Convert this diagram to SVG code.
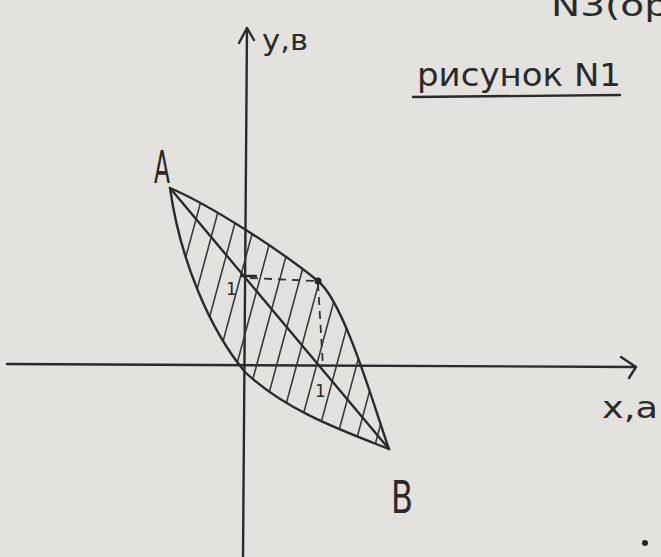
<svg xmlns="http://www.w3.org/2000/svg" width="661" height="557" viewBox="0 0 661 557">
<style>
.ln{fill:none;stroke:#2a2a2a;stroke-width:2.4;stroke-linecap:round;stroke-linejoin:round}
.th{fill:none;stroke:#3a3a3a;stroke-width:1.6;stroke-linecap:round}
.ds{fill:none;stroke:#333;stroke-width:1.8;stroke-dasharray:8 6}
.t{font-family:"DejaVu Sans","Liberation Sans",sans-serif;fill:#2a2a2a}
</style>
<defs>
<clipPath id="lens">
<path d="M170,188 C210,205 280,250 318,281 C345,303 375,410 389,449 C340,430 285,410 245,372 C210,330 180,260 170,188 Z"/>
</clipPath>
</defs>
<rect width="661" height="557" fill="#e3e2de"/>
<g id="axes">
<path class="ln" d="M7,364 L636,367"/>
<path class="ln" d="M621,357 L636,367 L629,378"/>
<path class="ln" d="M243,557 L247,28"/>
<path class="ln" d="M239,43 L247,28 L254,40"/>
</g>
<g id="hatching" clip-path="url(#lens)">
<path class="th" d="M131,460 L212,160 M151,460 L232,160 M171,460 L252,160 M191,460 L272,160 M211,460 L292,160 M231,460 L312,160 M251,460 L332,160 M271,460 L352,160 M291,460 L372,160 M311,460 L392,160 M331,460 L412,160 M351,460 L432,160 M371,460 L452,160"/>
</g>
<g id="lens-shape">
<path class="ln" d="M170,188 C210,205 280,250 318,281 C345,303 375,410 389,449"/>
<path class="ln" d="M170,188 C180,260 210,330 245,372 C285,410 340,430 389,449"/>
<path class="ln" d="M170,188 L389,449"/>
</g>
<g id="guides">
<path class="ds" d="M250,278 L316,281"/>
<path class="ds" d="M318,283 L323,367"/>
<path class="ln" d="M241,276 L256,276"/>
<circle cx="318" cy="281" r="3.5" fill="#222"/>
</g>
<g id="labels">
<text class="t" x="154" y="183" font-size="44" textLength="16" lengthAdjust="spacingAndGlyphs">A</text>
<text class="t" x="391" y="513" font-size="44" textLength="22" lengthAdjust="spacingAndGlyphs">B</text>
<text class="t" x="262" y="50" font-size="28" textLength="46" lengthAdjust="spacingAndGlyphs">y,в</text>
<text class="t" x="602" y="418" font-size="30" textLength="56" lengthAdjust="spacingAndGlyphs">x,a</text>
<text class="t" x="226" y="295" font-size="17">1</text>
<text class="t" x="315" y="397" font-size="17">1</text>
<text class="t" x="417" y="86" font-size="32" textLength="204" lengthAdjust="spacingAndGlyphs">рисунок N1</text>
<path class="ln" d="M413,97 L620,95"/>
<text class="t" x="551" y="16" font-size="30" textLength="118" lengthAdjust="spacingAndGlyphs">N3(op</text>
<circle cx="645" cy="543" r="3" fill="#222"/>
</g>
</svg>
